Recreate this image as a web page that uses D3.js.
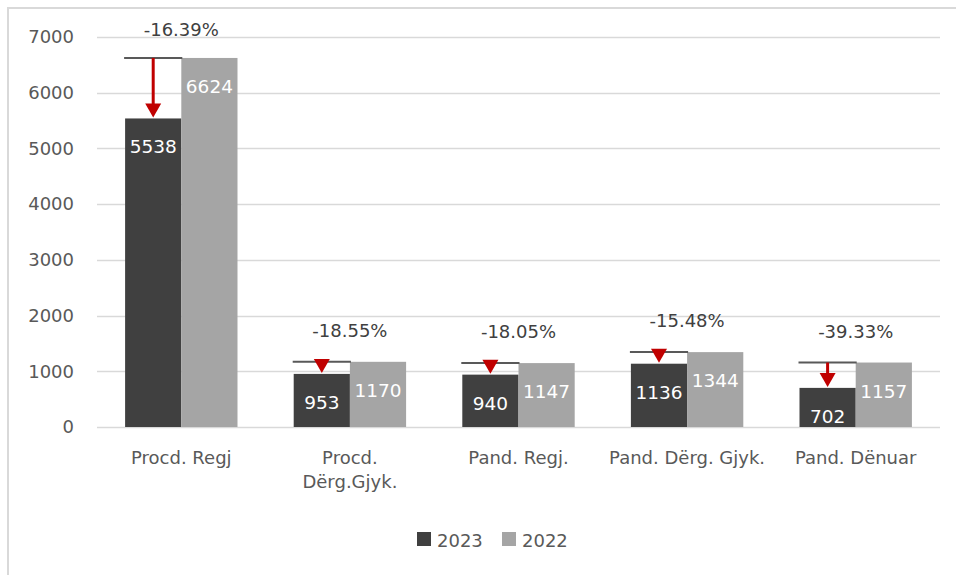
<!DOCTYPE html>
<html><head><meta charset="utf-8">
<script src="https://cdn.jsdelivr.net/npm/d3@7"></script>
<style>body{margin:0;background:#fff}svg{display:block}text{font-family:"DejaVu Sans",sans-serif}</style>
</head><body><svg id="c" width="956" height="575"></svg>
<script>
const categories = [["Procd. Regj"], ["Procd.", "Dërg.Gjyk."], ["Pand. Regj."], ["Pand. Dërg. Gjyk."], ["Pand. Dënuar"]];
const values2023 = [5538, 953, 940, 1136, 702];
const values2022 = [6624, 1170, 1147, 1344, 1157];
const changeLabels = ["-16.39%", "-18.55%", "-18.05%", "-15.48%", "-39.33%"];
const yTicks = [0, 1000, 2000, 3000, 4000, 5000, 6000, 7000];
const seriesNames = ["2023", "2022"];
const colors = ["#404040", "#a5a5a5"];

(function () {
const svg = d3.select("#c");
svg.append("rect").attr("x", 8).attr("y", 8).attr("width", 960).attr("height", 600)
  .attr("fill", "none").attr("stroke", "#d9d9d9").attr("stroke-width", 2);

const pLeft = 97, pRight = 940, pTop = 37, pBottom = 427;
const y = d3.scaleLinear().domain([0, 7000]).range([pBottom, pTop]);
const x = d3.scaleBand().domain(d3.range(categories.length)).range([pLeft, pRight]).paddingInner(1/3).paddingOuter(1/6);
const xs = d3.scaleBand().domain([0, 1]).range([0, x.bandwidth()]);

svg.append("g").selectAll("line").data(yTicks).join("line")
  .attr("x1", pLeft).attr("x2", pRight).attr("y1", d => Math.round(y(d)) + 0.5).attr("y2", d => Math.round(y(d)) + 0.5)
  .attr("stroke", "#d9d9d9").attr("stroke-width", 1.5);

const yAxis = d3.axisLeft(y).tickValues(yTicks).tickSize(0).tickPadding(0).tickFormat(d3.format("d"));
const ga = svg.append("g").attr("transform", `translate(74,0)`).call(yAxis);
ga.select(".domain").remove();
ga.selectAll("text").attr("font-size", 18).attr("fill", "#595959").attr("font-family", "'DejaVu Sans', sans-serif");

const series = [values2023, values2022];
series.forEach((vals, si) => {
  const g = svg.append("g");
  g.selectAll("rect").data(vals).join("rect")
    .attr("x", (d, i) => x(i) + xs(si)).attr("width", xs.bandwidth())
    .attr("y", d => y(d)).attr("height", d => y(0) - y(d)).attr("fill", colors[si]);
  g.selectAll("text").data(vals).join("text")
    .attr("x", (d, i) => x(i) + xs(si) + xs.bandwidth() / 2)
    .attr("y", d => y(d) + 35).attr("text-anchor", "middle")
    .attr("font-size", 18.5).attr("fill", "#fff").text(d => d);
});

const mk = svg.append("g");
values2023.forEach((v, i) => {
  const x0 = x(i), x1 = x(i) + xs.bandwidth(), cx = (x0 + x1) / 2;
  const yTop = y(values2022[i]), yTip = y(v);
  mk.append("line").attr("x1", x0 - 1).attr("x2", x1 + 1).attr("y1", yTop).attr("y2", yTop)
    .attr("stroke", "#595959").attr("stroke-width", 2);
  const headH = 15, headW = 16;
  if (yTip - headH > yTop) {
    mk.append("line").attr("x1", cx).attr("x2", cx).attr("y1", yTop).attr("y2", yTip - headH + 1)
      .attr("stroke", "#c00000").attr("stroke-width", 3);
  }
  mk.append("path").attr("d", `M${cx - headW/2},${yTip - headH}L${cx + headW/2},${yTip - headH}L${cx},${yTip - 1}Z`)
    .attr("fill", "#c00000");
  mk.append("text").attr("x", x(i) + x.bandwidth() / 2).attr("y", Math.max(yTop - 25, 36)).attr("text-anchor", "middle")
    .attr("font-size", 18).attr("fill", "#404040").text(changeLabels[i]);
});

const xl = svg.append("g");
categories.forEach((lines, i) => {
  const t = xl.append("text").attr("x", x(i) + x.bandwidth() / 2).attr("y", 464).attr("text-anchor", "middle")
    .attr("font-size", 18).attr("fill", "#595959");
  lines.forEach((l, j) => t.append("tspan").attr("x", x(i) + x.bandwidth() / 2).attr("dy", j ? 24 : 0).text(l));
});

const lg = svg.append("g");
const legX = [417, 502];
seriesNames.forEach((n, i) => {
  lg.append("rect").attr("x", legX[i]).attr("y", 532).attr("width", 14).attr("height", 14).attr("fill", colors[i]);
  lg.append("text").attr("x", legX[i] + 20).attr("y", 547).attr("font-size", 18).attr("fill", "#595959").text(n);
});
})();
</script></body></html>
